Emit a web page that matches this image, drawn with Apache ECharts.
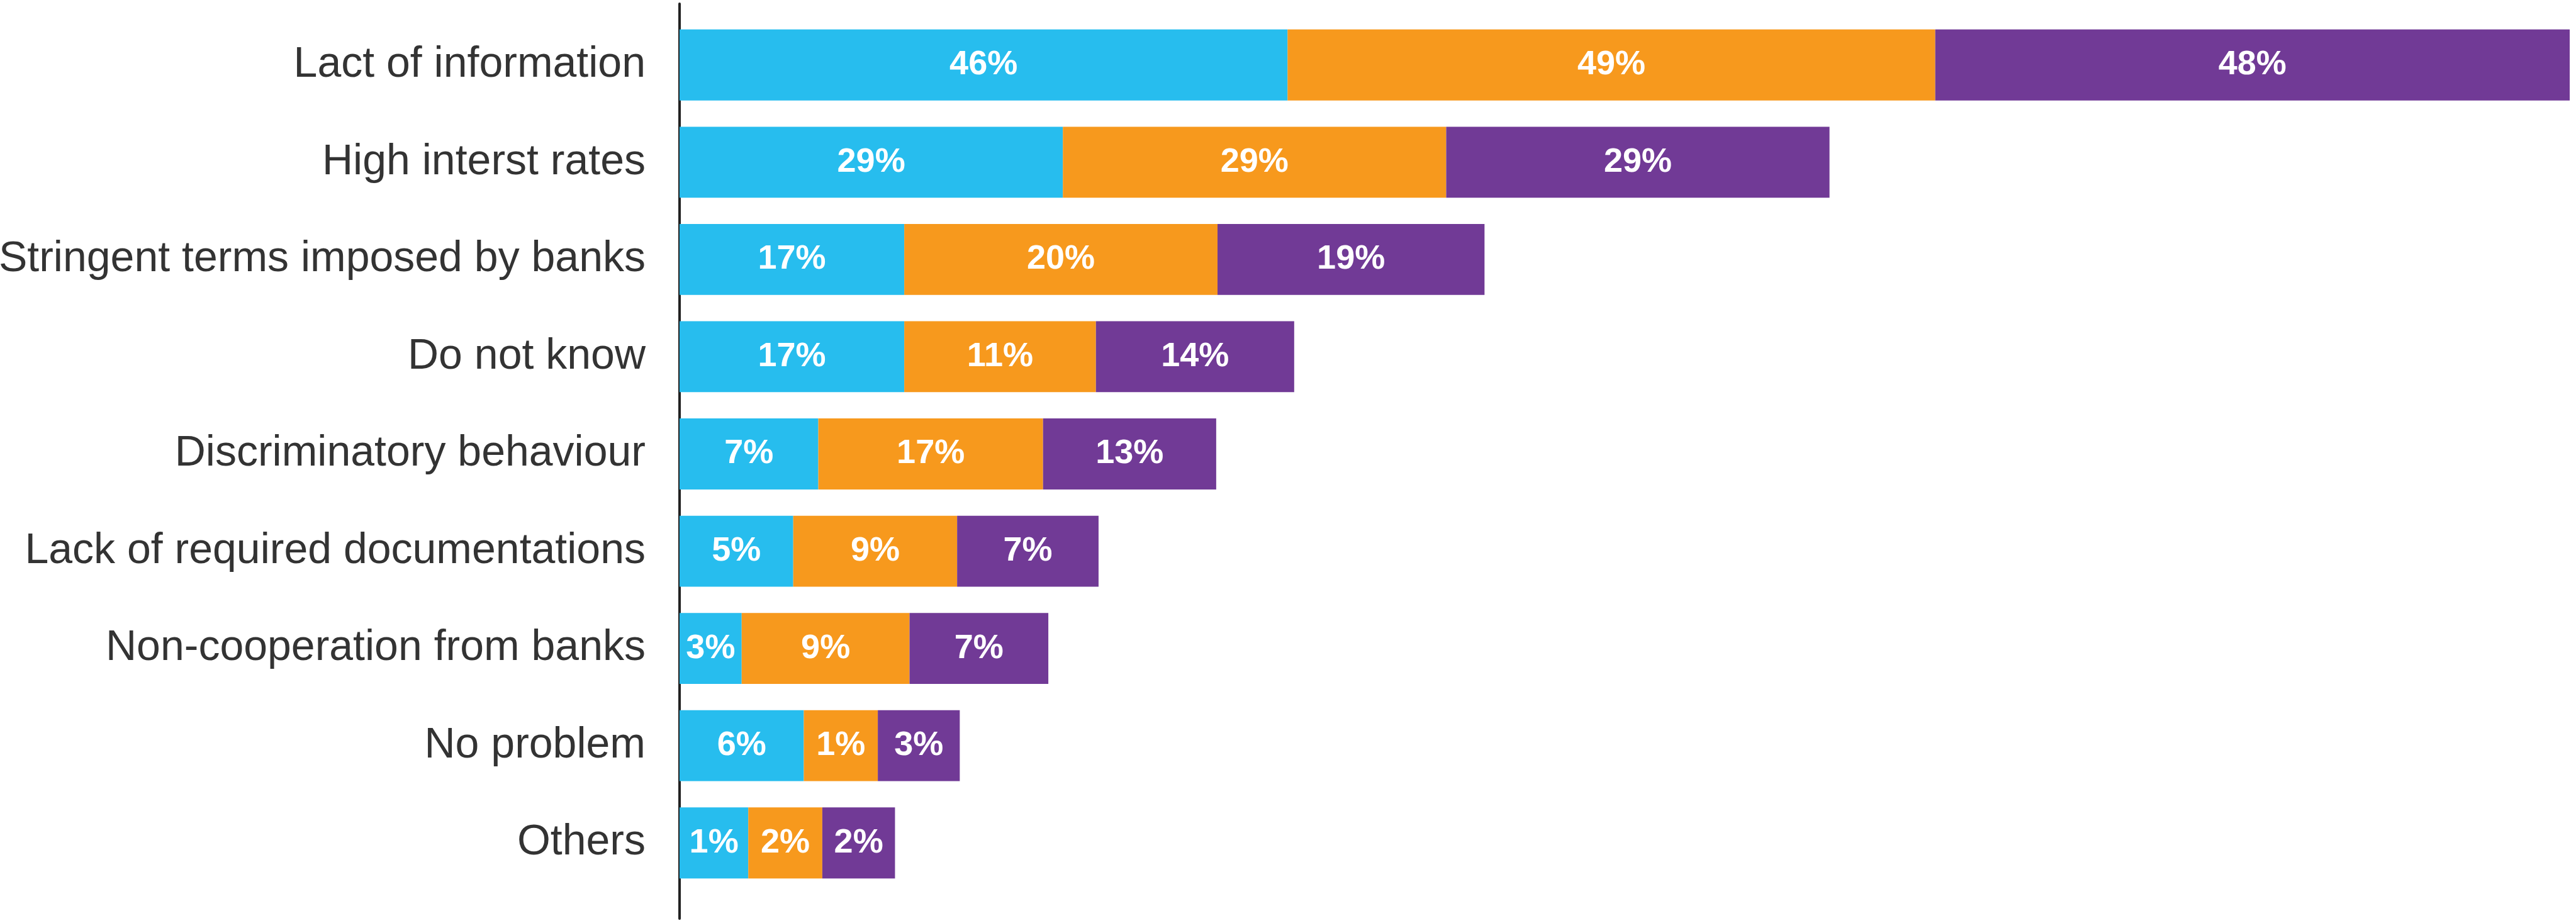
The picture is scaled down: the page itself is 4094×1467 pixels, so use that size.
<!DOCTYPE html>
<html lang="en">
<head>
    <meta charset="UTF-8">
    <title>Problems in accessing bank credit</title>
    <script src="https://cdn.jsdelivr.net/npm/echarts/dist/echarts.min.js"></script>
    <style>
        html, body {
            margin: 0;
            padding: 0;
            background: #ffffff;
        }
        #chart {
            width: 4094px;
            height: 1467px;
        }
    </style>
</head>
<body>
    <div id="chart"></div>
    <script>
        // categories, top to bottom
        const categories = [
            'Lact of information',
            'High interst rates',
            'Stringent terms imposed by banks',
            'Do not know',
            'Discriminatory behaviour',
            'Lack of required documentations',
            'Non-cooperation from banks',
            'No problem',
            'Others'
        ];

        // percentages printed on the segments
        const shareA = [46, 29, 17, 17, 7, 5, 3, 6, 1];
        const shareB = [49, 29, 20, 11, 17, 9, 9, 1, 2];
        const shareC = [48, 29, 19, 14, 13, 7, 7, 3, 2];

        // segment lengths as drawn in the original (small segments are drawn
        // wider than their share so the label fits), same % scale
        const drawnA = [46, 29, 17, 17, 10.5, 8.6, 4.7, 9.4, 5.2];
        const drawnB = [49, 29, 23.7, 14.5, 17, 12.4, 12.7, 5.6, 5.6];
        const drawnC = [48, 29, 20.2, 15, 13.1, 10.7, 10.5, 6.2, 5.5];

        const seriesNames = ['Group A', 'Group B', 'Group C'];
        const seriesColors = ['#27bdee', '#f7991d', '#713a96'];
        const shares = [shareA, shareB, shareC];

        const chart = echarts.init(document.getElementById('chart'));

        function makeSeries(i, data) {
            return {
                name: seriesNames[i],
                type: 'bar',
                stack: 'total',
                xAxisIndex: 0,
                yAxisIndex: 0,
                barCategoryGap: '27%',
                itemStyle: { color: seriesColors[i] },
                label: {
                    show: true,
                    position: 'inside',
                    color: '#ffffff',
                    fontFamily: 'Liberation Sans, Arial, sans-serif',
                    fontWeight: 'bold',
                    fontSize: 54,
                    formatter: function (p) {
                        return shares[i][p.dataIndex] + '%';
                    }
                },
                data: data
            };
        }

        const option = {
            animation: false,
            backgroundColor: '#ffffff',
            grid: [
                // bars
                { left: 1080, right: 10, top: 26, bottom: 50, containLabel: false, outerBoundsMode: 'none' },
                // taller grid only used for the vertical axis line
                { left: 1080, right: 10, top: 6, bottom: 7, containLabel: false, outerBoundsMode: 'none' }
            ],
            xAxis: [
                { type: 'value', gridIndex: 0, min: 0, max: 143, show: false },
                { type: 'value', gridIndex: 1, min: 0, max: 143, show: false }
            ],
            yAxis: [
                {
                    type: 'category',
                    gridIndex: 0,
                    inverse: true,
                    data: categories,
                    axisLine: { show: false },
                    axisTick: { show: false },
                    axisLabel: {
                        margin: 54,
                        color: '#333333',
                        fontFamily: 'Liberation Sans, Arial, sans-serif',
                        fontSize: 68
                    }
                },
                {
                    type: 'value',
                    gridIndex: 1,
                    min: 0,
                    max: 1,
                    axisLine: { show: true, lineStyle: { color: '#222222', width: 4 } },
                    axisTick: { show: false },
                    axisLabel: { show: false },
                    splitLine: { show: false }
                }
            ],
            series: [
                makeSeries(0, drawnA),
                makeSeries(1, drawnB),
                makeSeries(2, drawnC)
            ]
        };

        chart.setOption(option);
    </script>
</body>
</html>
